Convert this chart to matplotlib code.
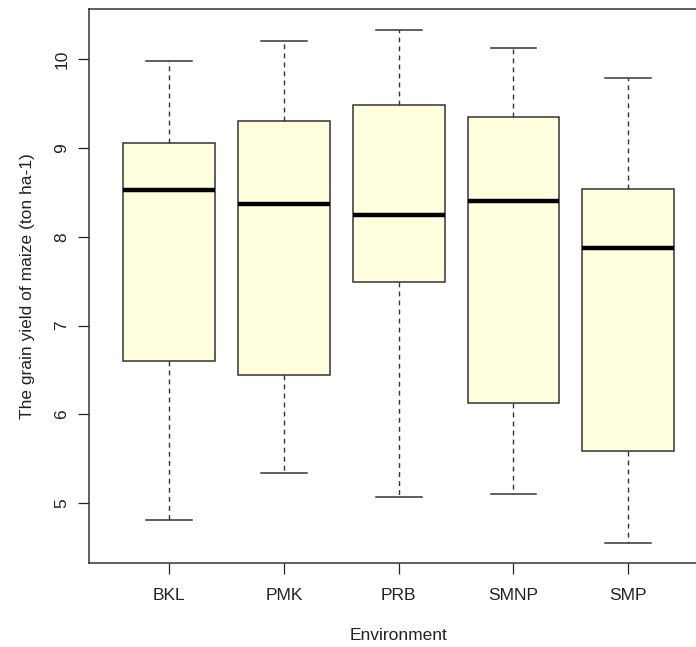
import matplotlib
matplotlib.use("Agg")
import matplotlib.pyplot as plt

# Environment boxplot stats
envs = ["BKL", "PMK", "PRB", "SMNP", "SMP"]
whislo = [4.81, 5.34, 5.07, 5.10, 4.55]
q1 = [6.60, 6.45, 7.49, 6.13, 5.59]
med = [8.53, 8.37, 8.25, 8.40, 7.87]
q3 = [9.06, 9.31, 9.48, 9.35, 8.54]
whishi = [9.98, 10.21, 10.33, 10.13, 9.79]

plt.rcParams['font.family'] = ['Liberation Sans', 'DejaVu Sans']

stats = []
for i in range(len(envs)):
    stats.append(dict(label=envs[i], whislo=whislo[i], q1=q1[i], med=med[i],
                      q3=q3[i], whishi=whishi[i], fliers=[]))

fig = plt.figure(figsize=(6.96, 6.47), dpi=100)
ax = fig.add_axes([0.1279, 0.1303, 0.89, 0.8558])

ax.bxp(stats, positions=range(1, 6), widths=0.8, patch_artist=True,
       showfliers=False,
       boxprops=dict(facecolor='#FFFFE0', edgecolor='#333333', linewidth=1.1),
       medianprops=dict(color='black', linewidth=3.2, solid_capstyle='butt'),
       whiskerprops=dict(color='#333333', linewidth=1.0, linestyle=(0, (3.5, 3))),
       capprops=dict(color='#333333', linewidth=1.1),
       capwidths=0.4)

ax.set_xlim(0.3, 5.7)
ax.set_ylim(4.331, 10.566)
ax.set_yticks([5, 6, 7, 8, 9, 10])
ax.set_yticklabels(['5', '6', '7', '8', '9', '10'], rotation=90, va='center')
ax.set_xticks(range(1, 6))
ax.set_xticklabels(envs)
ax.tick_params(axis='both', length=8, width=0.9, labelsize=12.5, colors='#222222')
ax.tick_params(axis='x', pad=10)
ax.tick_params(axis='y', pad=6)
for s in ax.spines.values():
    s.set_linewidth(1.1)
    s.set_color('#333333')

ax.set_xlabel("Environment", fontsize=12.5, labelpad=18, color='#222222')
ax.set_ylabel("The grain yield of maize (ton ha-1)", fontsize=12.5, labelpad=14, color='#222222')

fig.savefig("out.png", dpi=100)
